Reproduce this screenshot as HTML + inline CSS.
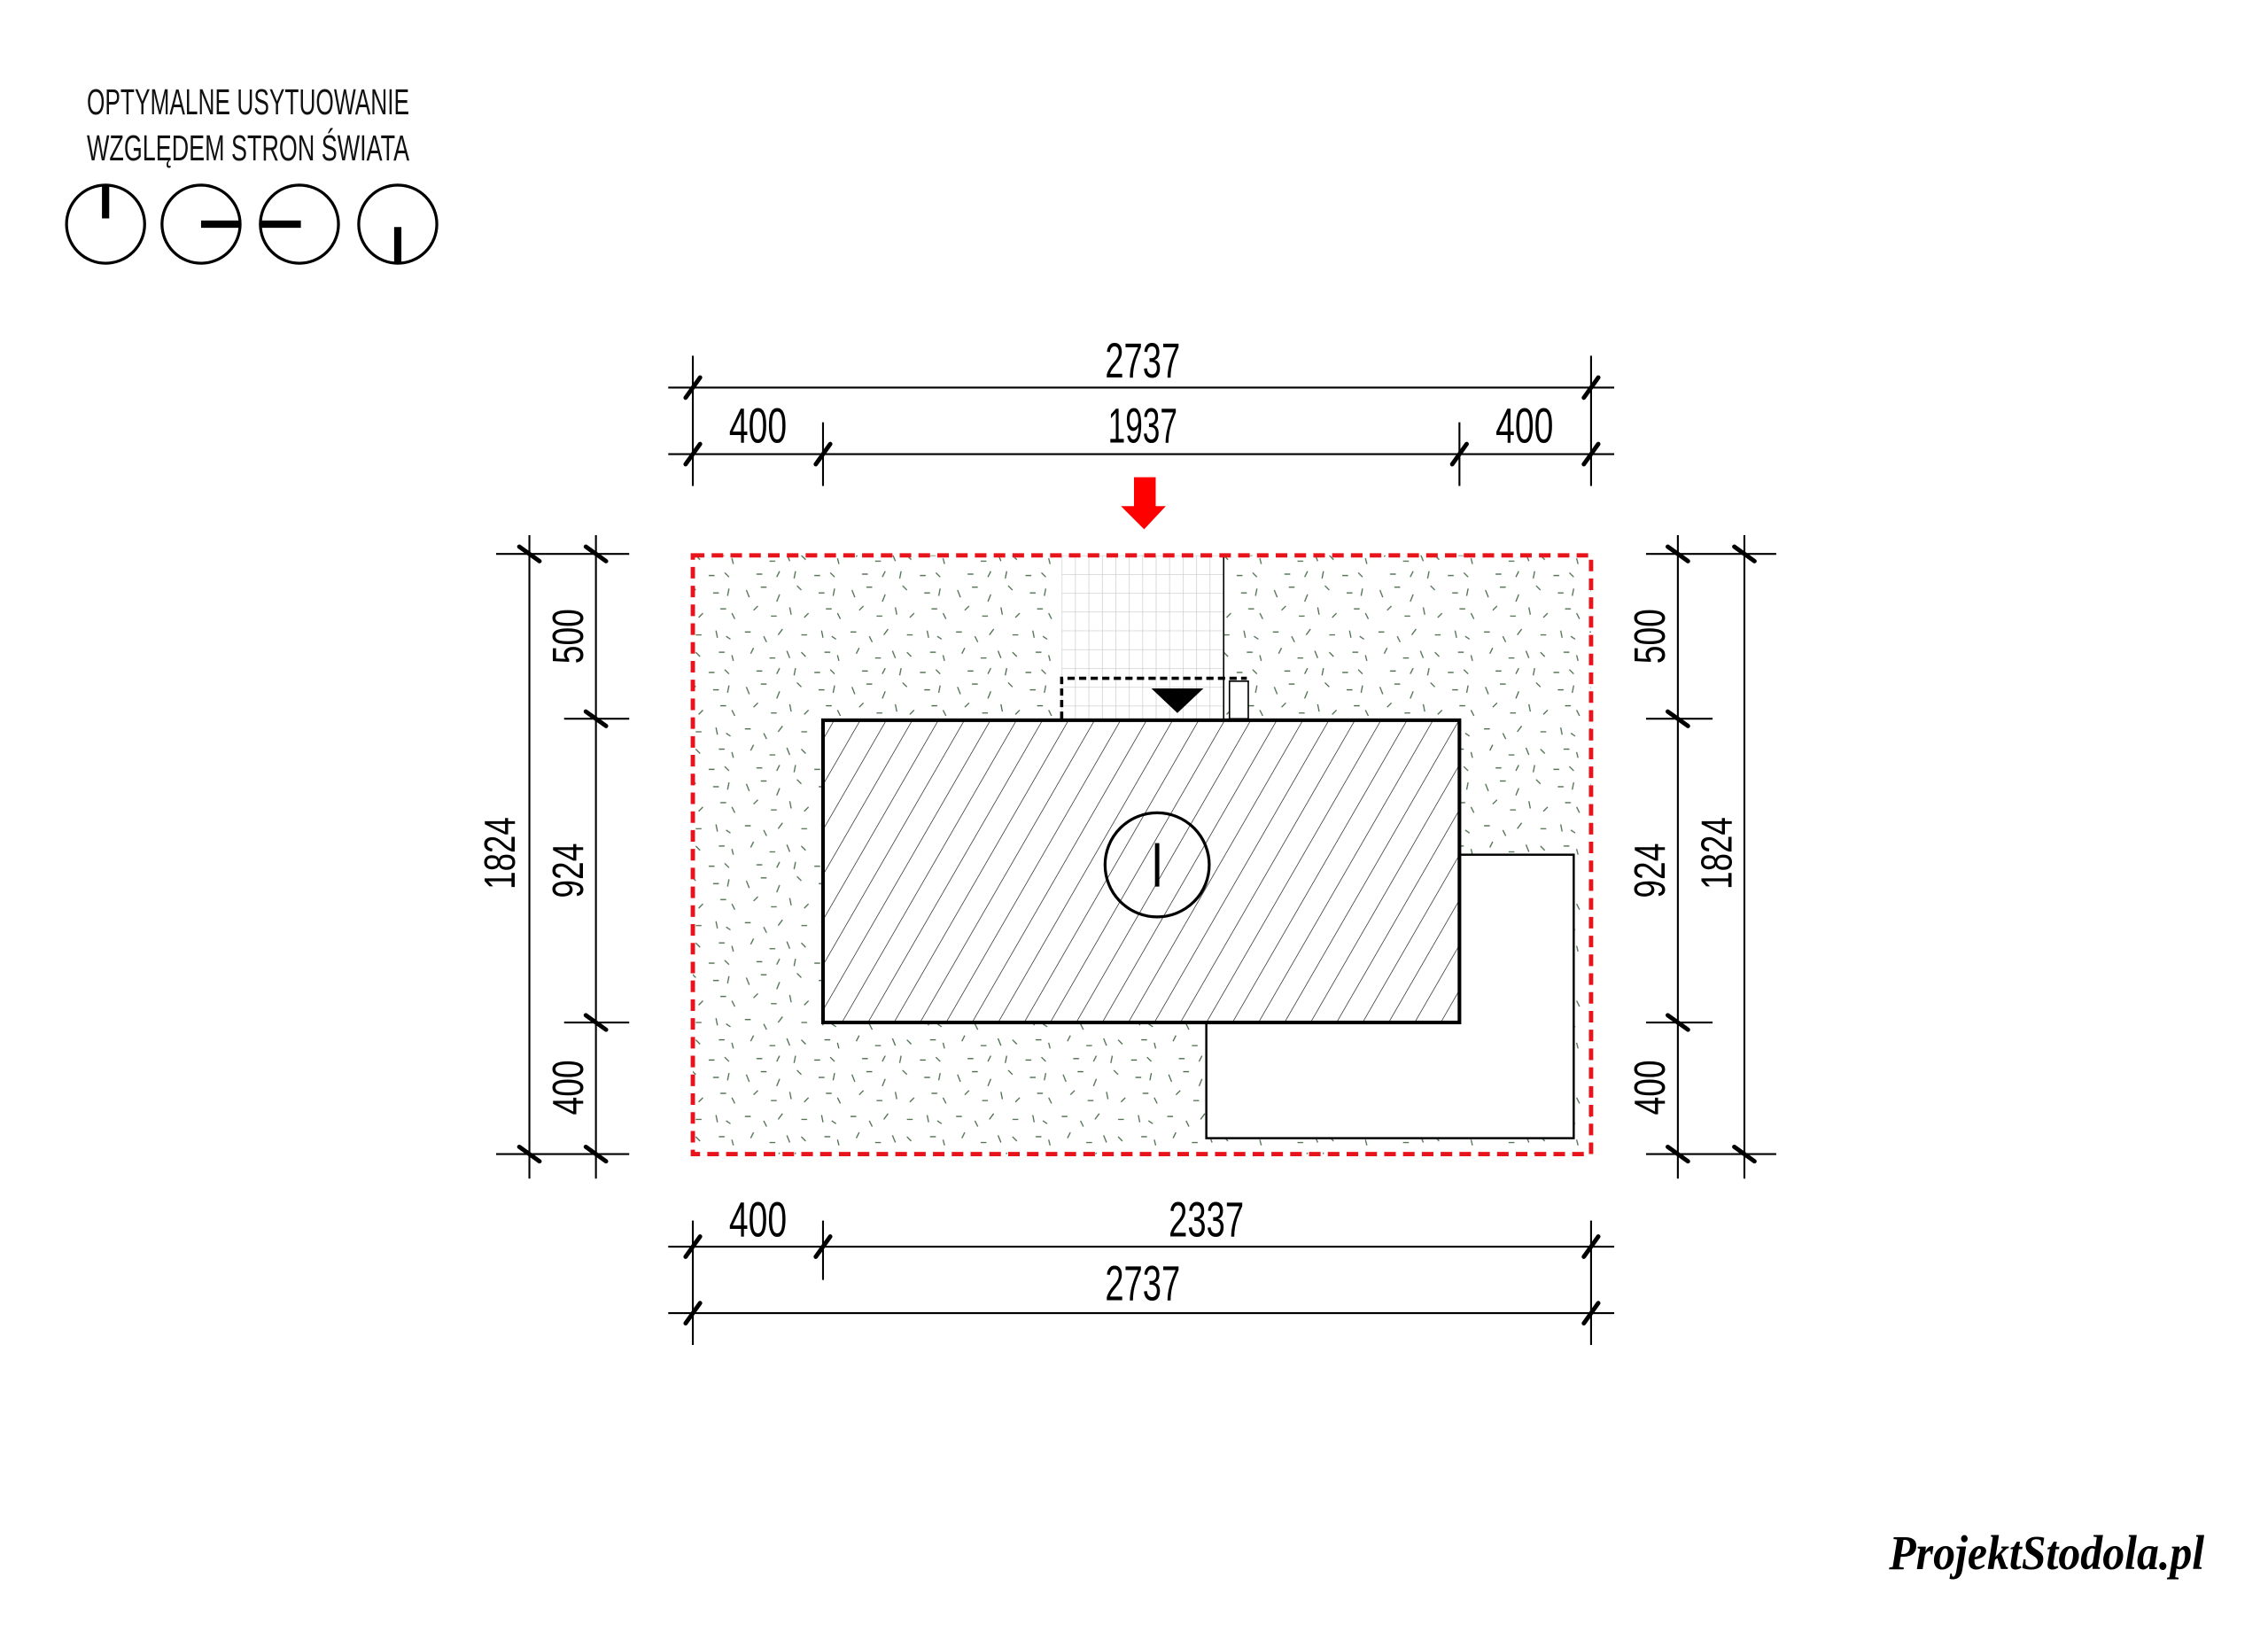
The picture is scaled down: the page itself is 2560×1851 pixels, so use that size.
<!DOCTYPE html>
<html><head><meta charset="utf-8"><style>html,body{margin:0;padding:0;background:#fff}svg{display:block}</style></head>
<body>
<svg width="2560" height="1851" viewBox="0 0 1568 1134" preserveAspectRatio="none" xmlns="http://www.w3.org/2000/svg">
<defs>
<pattern id="sp" width="73" height="67" patternUnits="userSpaceOnUse">
<g stroke="#4a6a4a" stroke-width="0.8" fill="none">
<path d="M5 6l2 5M15 4h4M28 9l-2 5M40 3l3 3M55 8h4M66 5l-1 5M10 20l3-3M22 24h4M35 18l1 5M48 22l-3 3M60 19h4M70 26l-2-4M4 35h4M17 38l2 4M30 33l-3 4M43 37h4M57 34l1 5M67 40l-3-2M8 50l2-4M21 53h4M33 48l2 5M46 52l-3-3M59 49h4M69 55l-1-4M12 62h4M26 64l2-4M39 60l-1 5M52 63h4M63 61l3 3"/>
</g>
</pattern>
<pattern id="hatch" width="18" height="209" patternUnits="userSpaceOnUse" patternTransform="skewX(-30)">
<line x1="0" y1="0" x2="0" y2="209" stroke="#222" stroke-width="1"/>
</pattern>
<pattern id="grid" x="734" y="384" width="9.3" height="13" patternUnits="userSpaceOnUse">
<path d="M0 0V13M0 0H9.3" stroke="#c8c8c8" stroke-width="0.8" fill="none"/>
</pattern>
</defs>
<rect width="1568" height="1134" fill="#fff"/>

<!-- title -->
<g font-family="Liberation Sans Narrow, Liberation Sans, sans-serif" font-size="25" fill="#111" text-anchor="start">
<text x="60" y="79" textLength="223" lengthAdjust="spacingAndGlyphs">OPTYMALNE USYTUOWANIE</text>
<text x="60" y="111" textLength="223" lengthAdjust="spacingAndGlyphs">WZGLĘDEM STRON ŚWIATA</text>
</g>
<g stroke="#000" stroke-width="2" fill="none">
<circle cx="73" cy="155" r="27"/><circle cx="139" cy="155" r="27"/><circle cx="207" cy="155" r="27"/><circle cx="275" cy="155" r="27"/>
</g>
<g stroke="#000" stroke-width="5">
<line x1="73" y1="128" x2="73" y2="151"/>
<line x1="139" y1="155" x2="166" y2="155"/>
<line x1="180" y1="155" x2="208" y2="155"/>
<line x1="275" y1="157" x2="275" y2="182"/>
</g>

<!-- site -->
<rect x="479" y="384" width="621" height="414" fill="url(#sp)"/>
<rect x="734" y="384" width="112" height="113" fill="#fff"/>
<rect x="734" y="384" width="112" height="113" fill="url(#grid)"/>
<line x1="846" y1="384" x2="846" y2="497" stroke="#000" stroke-width="1"/>
<rect x="834" y="591" width="254" height="196" fill="#fff" stroke="#000" stroke-width="1.5"/>
<rect x="569" y="498" width="440" height="209" fill="#fff"/>
<rect x="569" y="498" width="440" height="209" fill="url(#hatch)"/>
<rect x="569" y="498" width="440" height="209" fill="none" stroke="#000" stroke-width="2.5"/>
<circle cx="800" cy="598" r="36" fill="#fff" fill-opacity="0" stroke="#000" stroke-width="2"/>
<line x1="800" y1="583" x2="800" y2="613" stroke="#000" stroke-width="3"/>
<path d="M734 497V469H862" fill="none" stroke="#000" stroke-width="2.2" stroke-dasharray="5,3"/>
<rect x="850" y="471" width="13" height="26" fill="#fff" stroke="#000" stroke-width="1"/>
<polygon points="796,476 832,476 814,493" fill="#000"/>
<rect x="479" y="384" width="621" height="414" fill="none" stroke="#e8141b" stroke-width="3" stroke-dasharray="8,5"/>
<polygon points="784,330 799,330 799,350 806,350 791,366 775,350 784,350" fill="#f00"/>

<!-- dimension lines -->
<g stroke="#000" stroke-width="1.3" fill="none">
<line x1="462" y1="268" x2="1116" y2="268"/>
<line x1="462" y1="314" x2="1116" y2="314"/>
<line x1="479" y1="246" x2="479" y2="336"/>
<line x1="1100" y1="246" x2="1100" y2="336"/>
<line x1="569" y1="292" x2="569" y2="336"/>
<line x1="1009" y1="292" x2="1009" y2="336"/>
<line x1="462" y1="862" x2="1116" y2="862"/>
<line x1="462" y1="908" x2="1116" y2="908"/>
<line x1="479" y1="844" x2="479" y2="930"/>
<line x1="1100" y1="844" x2="1100" y2="930"/>
<line x1="569" y1="844" x2="569" y2="885"/>
<line x1="366" y1="370" x2="366" y2="815"/>
<line x1="412" y1="370" x2="412" y2="815"/>
<line x1="343" y1="383" x2="435" y2="383"/>
<line x1="343" y1="798" x2="435" y2="798"/>
<line x1="390" y1="497" x2="435" y2="497"/>
<line x1="390" y1="707" x2="435" y2="707"/>
<line x1="1160" y1="370" x2="1160" y2="815"/>
<line x1="1206" y1="370" x2="1206" y2="815"/>
<line x1="1138" y1="383" x2="1228" y2="383"/>
<line x1="1138" y1="798" x2="1228" y2="798"/>
<line x1="1138" y1="497" x2="1184" y2="497"/>
<line x1="1138" y1="707" x2="1184" y2="707"/>
</g>
<g stroke="#000" stroke-width="3" stroke-linecap="round">
<path d="M474 275l10-14M1095 275l10-14M474 321l10-14M564 321l10-14M1004 321l10-14M1095 321l10-14"/>
<path d="M474 869l10-14M564 869l10-14M1095 869l10-14M474 915l10-14M1095 915l10-14"/>
<path d="M359 378l14 10M359 793l14 10M405 378l14 10M405 492l14 10M405 702l14 10M405 793l14 10"/>
<path d="M1153 378l14 10M1153 492l14 10M1153 702l14 10M1153 793l14 10M1199 378l14 10M1199 793l14 10"/>
</g>
<g font-family="Liberation Sans Narrow, Liberation Sans, sans-serif" font-size="34" fill="#000" text-anchor="middle">
<text x="790" y="261" textLength="52" lengthAdjust="spacingAndGlyphs">2737</text>
<text x="524" y="306" textLength="40" lengthAdjust="spacingAndGlyphs">400</text>
<text x="790" y="306" textLength="48" lengthAdjust="spacingAndGlyphs">1937</text>
<text x="1054" y="306" textLength="40" lengthAdjust="spacingAndGlyphs">400</text>
<text x="524" y="855" textLength="40" lengthAdjust="spacingAndGlyphs">400</text>
<text x="834" y="855" textLength="52" lengthAdjust="spacingAndGlyphs">2337</text>
<text x="790" y="899" textLength="52" lengthAdjust="spacingAndGlyphs">2737</text>
</g>
<g font-family="Liberation Sans, sans-serif" font-size="30" fill="#000" text-anchor="middle">
<text transform="translate(356,590) rotate(-90)" textLength="50" lengthAdjust="spacingAndGlyphs">1824</text>
<text transform="translate(403,440) rotate(-90)" textLength="38" lengthAdjust="spacingAndGlyphs">500</text>
<text transform="translate(403,602) rotate(-90)" textLength="38" lengthAdjust="spacingAndGlyphs">924</text>
<text transform="translate(403,752) rotate(-90)" textLength="38" lengthAdjust="spacingAndGlyphs">400</text>
<text transform="translate(1151,440) rotate(-90)" textLength="38" lengthAdjust="spacingAndGlyphs">500</text>
<text transform="translate(1151,602) rotate(-90)" textLength="38" lengthAdjust="spacingAndGlyphs">924</text>
<text transform="translate(1151,752) rotate(-90)" textLength="38" lengthAdjust="spacingAndGlyphs">400</text>
<text transform="translate(1197,590) rotate(-90)" textLength="50" lengthAdjust="spacingAndGlyphs">1824</text>
</g>
<text x="1306" y="1085" font-family="Liberation Serif, serif" font-style="italic" font-weight="bold" font-size="34" fill="#000" textLength="218" lengthAdjust="spacingAndGlyphs">ProjektStodola.pl</text>
</svg>
</body></html>
